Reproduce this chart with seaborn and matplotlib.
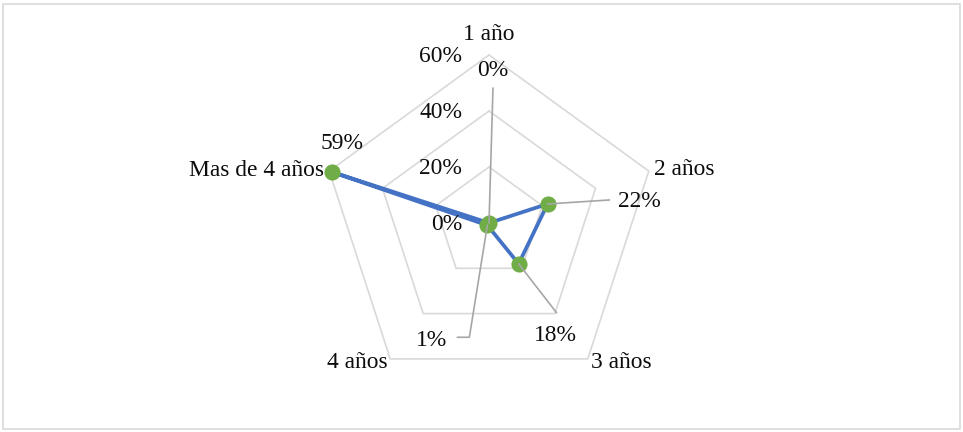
import numpy as np
import pandas as pd
import matplotlib
matplotlib.use("Agg")
import matplotlib.pyplot as plt
from matplotlib.lines import Line2D
from matplotlib.patches import Rectangle
from matplotlib.transforms import IdentityTransform
import seaborn as sns

# Antigüedad: share of respondents per category
categories = ["1 año", "2 años", "3 años", "4 años", "Mas de 4 años"]
shares = [0.00, 0.22, 0.18, 0.01, 0.59]
value_labels = ["0%", "22%", "18%", "1%", "59%"]
radial_ticks = [0.0, 0.2, 0.4, 0.6]
radial_tick_labels = ["0%", "20%", "40%", "60%"]

sns.set_theme(style="white")
plt.rcParams["font.family"] = ["Liberation Serif", "DejaVu Serif"]
FS = 16.9
TXT = "#0d0d0d"
GRID = "#d9d9d9"
LEADER = "#a6a6a6"

W, H, DPI = 963, 432, 100
fig = plt.figure(figsize=(W / DPI, H / DPI), dpi=DPI)
fig.patch.set_facecolor("white")

cx, cy, R = 489, 209, 168
ax = fig.add_axes([(cx - R) / W, (cy - R) / H, 2 * R / W, 2 * R / H],
                  projection="polar")
ax.set_theta_zero_location("N")
ax.set_theta_direction(-1)

n = len(categories)
angles = np.arange(n) * 2 * np.pi / n
closed_angles = np.append(angles, 2 * np.pi)

# pentagonal gridlines
for r in radial_ticks[1:]:
    ax.plot(closed_angles, [r] * (n + 1), color=GRID, lw=1.2, zorder=1,
            clip_on=False)

df = pd.DataFrame({"angle": closed_angles, "share": shares + shares[:1]})
sns.lineplot(data=df, x="angle", y="share", sort=False, estimator=None,
             color="#4472C4", lw=2.7, ax=ax, zorder=3, clip_on=False)

ax.set_ylim(0, 0.6)
ax.set_xlim(0, 2 * np.pi)
ax.grid(False)
ax.set_xticks([])
ax.set_yticks([])
ax.set_xlabel("")
ax.set_ylabel("")
ax.spines["polar"].set_visible(False)
ax.patch.set_alpha(0)

# radial axis labels
for r, lab in zip(radial_ticks, radial_tick_labels):
    ax.annotate(lab, xy=(0, r), xytext=(-27, -2), textcoords="offset pixels",
                ha="right", va="center", fontsize=FS, color=TXT)

# category labels around the outer pentagon
cat_offsets = [(0, 20, "center"), (5, 2, "left"), (3, -4, "left"),
               (-3, -4, "right"), (-5, 1, "right")]
for ang, cat, (dx, dy, ha) in zip(angles, categories, cat_offsets):
    ax.annotate(cat, xy=(ang, 0.6), xytext=(dx, dy), textcoords="offset pixels",
                ha=ha, va="center", fontsize=FS, color=TXT)

# data labels with leader lines (pixel offsets, y up)
label_specs = [
    ([(4, 135)], (4, 152), "center"),
    ([(62, 4)], (70, 2), "left"),
    ([(38, -49)], (37, -72), "center"),
    ([(-18, -112), (-30, -112)], (-40, -115), "right"),
    ([], (10, 28), "center"),
]
fig.canvas.draw()
for ang, val, lab, (path, (tx, ty), ha) in zip(angles, shares, value_labels,
                                                label_specs):
    px, py = ax.transData.transform((ang, val))
    if path:
        xs = [px] + [px + dx for dx, _ in path]
        ys = [py] + [py + dy for _, dy in path]
        fig.add_artist(Line2D(xs, ys, transform=IdentityTransform(),
                              color=LEADER, lw=1.2, zorder=2))
    ax.annotate(lab, xy=(ang, val), xytext=(tx, ty), textcoords="offset pixels",
                ha=ha, va="center", fontsize=FS, color=TXT, zorder=6)

sns.scatterplot(x=angles, y=shares, s=135, color="#70AD47", linewidth=0,
                ax=ax, zorder=5, clip_on=False)
ax.set_xlabel("")
ax.set_ylabel("")
ax.set_ylim(0, 0.6)

# chart area border
fig.add_artist(Rectangle((3 / W, 3 / H), 957 / W, 425 / H,
                         transform=fig.transFigure, fill=False,
                         ec=GRID, lw=1.2))

fig.savefig("out.png", dpi=DPI, facecolor="white")
